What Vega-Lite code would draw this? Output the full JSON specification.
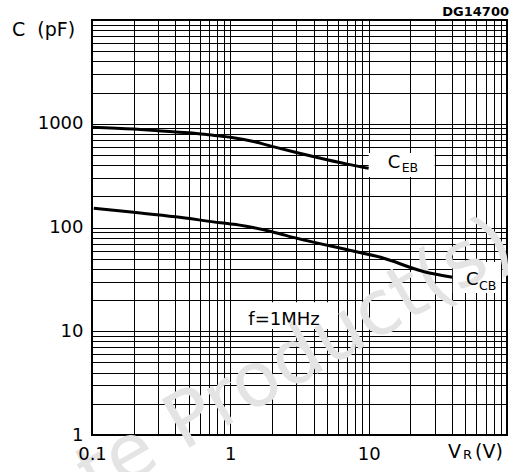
{
  "$schema": "https://vega.github.io/schema/vega-lite/v6.json",
  "width": 415,
  "height": 415,
  "autosize": "none",
  "padding": {"left": 92, "top": 20, "right": 11, "bottom": 37},
  "background": "white",
  "config": {
    "view": {"stroke": "black", "strokeWidth": 2},
    "font": "DejaVu Sans",
    "axis": {"gridColor": "black", "gridOpacity": 1, "gridWidth": 1, "ticks": false, "tickSize": 0, "domain": false, "labelFont": "DejaVu Sans", "labelFontSize": 18, "labelColor": "black", "labelOverlap": false, "title": null},
    "text": {"font": "DejaVu Sans", "color": "black"}
  },
  "resolve": {"axis": {"x": "independent", "y": "independent"}},
  "datasets": {
    "curves": [
      {"series": "CEB", "v": 0.1, "c": 925},
      {"series": "CEB", "v": 0.2, "c": 888},
      {"series": "CEB", "v": 0.3, "c": 858},
      {"series": "CEB", "v": 0.5, "c": 818},
      {"series": "CEB", "v": 0.7, "c": 782},
      {"series": "CEB", "v": 1, "c": 742},
      {"series": "CEB", "v": 1.5, "c": 670},
      {"series": "CEB", "v": 2, "c": 605},
      {"series": "CEB", "v": 3, "c": 528},
      {"series": "CEB", "v": 5, "c": 450},
      {"series": "CEB", "v": 7, "c": 408},
      {"series": "CEB", "v": 10, "c": 372},
      {"series": "CCB", "v": 0.103, "c": 153},
      {"series": "CCB", "v": 0.2, "c": 140},
      {"series": "CCB", "v": 0.4, "c": 127},
      {"series": "CCB", "v": 0.85, "c": 111},
      {"series": "CCB", "v": 1.14, "c": 106},
      {"series": "CCB", "v": 2, "c": 91},
      {"series": "CCB", "v": 3, "c": 79},
      {"series": "CCB", "v": 7, "c": 61},
      {"series": "CCB", "v": 12.2, "c": 51.6},
      {"series": "CCB", "v": 25.2, "c": 37.5},
      {"series": "CCB", "v": 40.4, "c": 33.1}
    ],
    "boxes": [
      {"v1": 10, "v2": 30, "c1": 307, "c2": 522},
      {"v1": 40.6, "v2": 90.5, "c1": 23.4, "c2": 46.5},
      {"v1": 1.09, "v2": 5.5, "c1": 10.5, "c2": 19}
    ],
    "one": [{"k": 1}]
  },
  "layer": [
    {
      "data": {"name": "boxes"},
      "mark": {"type": "rect", "fill": "white", "stroke": null},
      "encoding": {
        "x": {"field": "v1", "type": "quantitative",
          "scale": {"type": "log", "domain": [0.1, 100], "nice": false},
          "axis": {"orient": "bottom", "grid": true, "labels": false, "zindex": 0,
            "values": [0.1,0.2,0.3,0.4,0.5,0.6,0.7,0.8,0.9,1,2,3,4,5,6,7,8,9,10,20,30,40,50,60,70,80,90,100]}},
        "x2": {"field": "v2"},
        "y": {"field": "c1", "type": "quantitative",
          "scale": {"type": "log", "domain": [1, 10000], "nice": false},
          "axis": {"orient": "left", "grid": true, "labels": false, "zindex": 0,
            "values": [1,2,3,4,5,6,7,8,9,10,20,30,40,50,60,70,80,90,100,200,300,400,500,600,700,800,900,1000,2000,3000,4000,5000,6000,7000,8000,9000,10000]}},
        "y2": {"field": "c2"}
      }
    },
    {
      "data": {"name": "one"},
      "mark": {"type": "text", "text": "Obsolete Product(s)", "fontSize": 76, "align": "right", "baseline": "middle", "angle": 330, "color": "#e4e4e4"},
      "encoding": {"x": {"datum": 100, "axis": null}, "y": {"datum": 80, "axis": null}}
    },
    {
      "data": {"name": "curves"},
      "mark": {"type": "line", "color": "black", "strokeWidth": 3, "interpolate": "monotone"},
      "encoding": {
        "x": {"field": "v", "type": "quantitative",
          "axis": {"orient": "bottom", "grid": false, "zindex": 1, "labelFlush": false, "labelPadding": 10, "labelBaseline": "top",
            "values": [0.1, 1, 10],
            "labelExpr": "datum.value == 0.1 ? '0.1' : datum.value == 1 ? '1' : '10'"}},
        "y": {"field": "c", "type": "quantitative",
          "axis": {"orient": "left", "grid": false, "zindex": 1, "labelFlush": true, "labelPadding": 9, "labelBaseline": "middle",
            "values": [1, 10, 100, 1000],
            "labelExpr": "datum.value == 1 ? '1' : datum.value == 10 ? '10' : datum.value == 100 ? '100' : '1000'"}},
        "detail": {"field": "series"}
      }
    },
    {
      "data": {"name": "one"},
      "mark": {"type": "text", "text": "C", "fontSize": 18, "align": "left", "baseline": "middle", "dx": 19, "dy": -2.5},
      "encoding": {"x": {"datum": 10, "axis": null}, "y": {"datum": 400, "axis": null}}
    },
    {
      "data": {"name": "one"},
      "mark": {"type": "text", "text": "EB", "fontSize": 12.5, "align": "left", "baseline": "middle", "dx": 33, "dy": 2.5},
      "encoding": {"x": {"datum": 10, "axis": null}, "y": {"datum": 400, "axis": null}}
    },
    {
      "data": {"name": "one"},
      "mark": {"type": "text", "text": "C", "fontSize": 18, "align": "left", "baseline": "middle", "dx": 14, "dy": -2},
      "encoding": {"x": {"datum": 40, "axis": null}, "y": {"datum": 30, "axis": null}}
    },
    {
      "data": {"name": "one"},
      "mark": {"type": "text", "text": "CB", "fontSize": 12.5, "align": "left", "baseline": "middle", "dx": 27, "dy": 4},
      "encoding": {"x": {"datum": 40, "axis": null}, "y": {"datum": 30, "axis": null}}
    },
    {
      "data": {"name": "one"},
      "mark": {"type": "text", "text": "f=1MHz", "fontSize": 18, "align": "left", "baseline": "middle", "dx": 18, "dy": -11},
      "encoding": {"x": {"datum": 1, "axis": null}, "y": {"datum": 10, "axis": null}}
    },
    {
      "data": {"name": "one"},
      "mark": {"type": "text", "text": "V", "fontSize": 19, "align": "left", "baseline": "middle", "dx": -59, "dy": 17},
      "encoding": {"x": {"datum": 100, "axis": null}, "y": {"datum": 1, "axis": null}}
    },
    {
      "data": {"name": "one"},
      "mark": {"type": "text", "text": "R", "fontSize": 13, "align": "left", "baseline": "middle", "dx": -44, "dy": 20},
      "encoding": {"x": {"datum": 100, "axis": null}, "y": {"datum": 1, "axis": null}}
    },
    {
      "data": {"name": "one"},
      "mark": {"type": "text", "text": "(V)", "fontSize": 19, "align": "left", "baseline": "middle", "dx": -32, "dy": 17},
      "encoding": {"x": {"datum": 100, "axis": null}, "y": {"datum": 1, "axis": null}}
    },
    {
      "data": {"name": "one"},
      "mark": {"type": "text", "text": "C\u00a0\u00a0(pF)", "fontSize": 19, "align": "left", "baseline": "middle", "dx": -80, "dy": 10},
      "encoding": {"x": {"datum": 0.1, "axis": null}, "y": {"datum": 10000, "axis": null}}
    },
    {
      "data": {"name": "one"},
      "mark": {"type": "text", "text": "DG14700", "fontSize": 13, "fontWeight": "bold", "align": "right", "baseline": "middle", "dx": 2, "dy": -8},
      "encoding": {"x": {"datum": 100, "axis": null}, "y": {"datum": 10000, "axis": null}}
    }
  ]
}
